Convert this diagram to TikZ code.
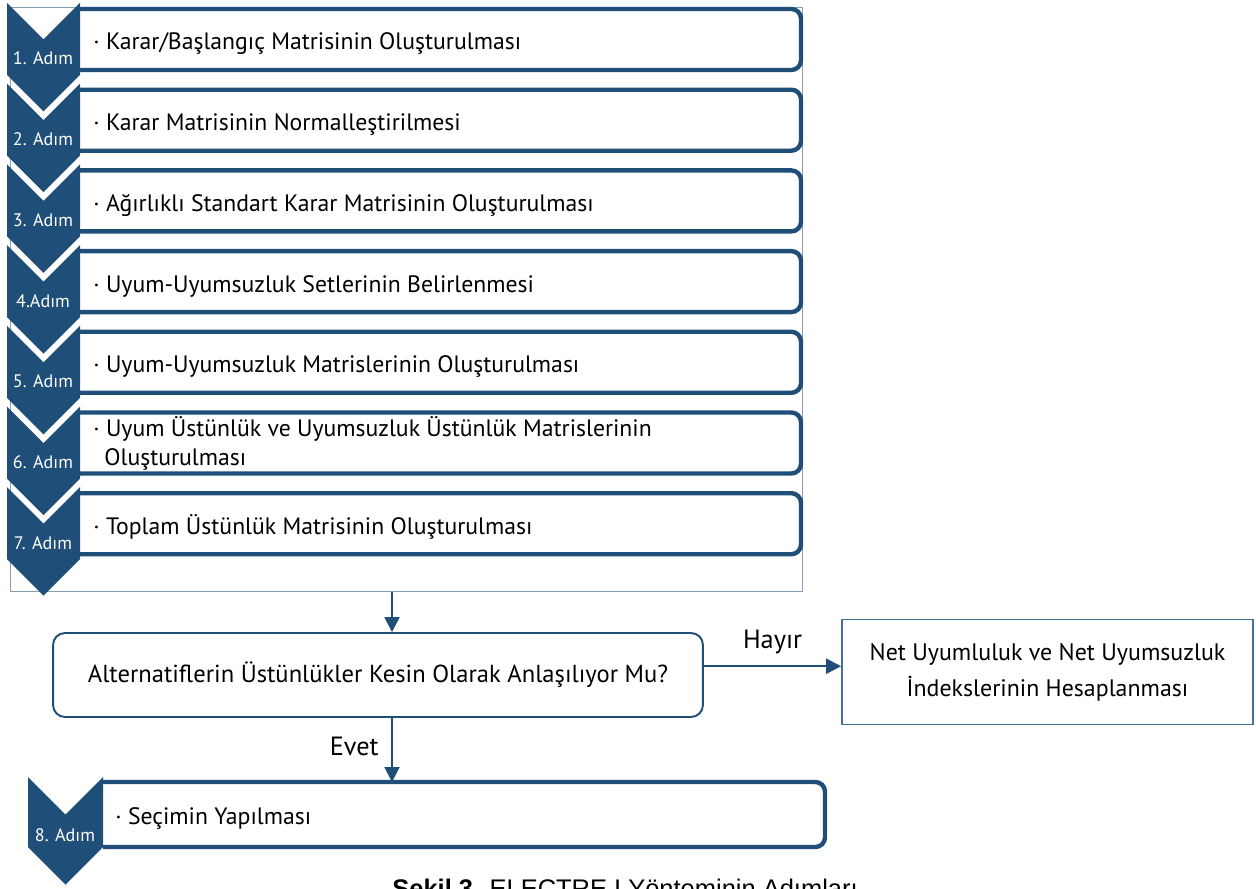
\documentclass[tikz,border=0pt]{standalone}
\usepackage{fontspec}
\setmainfont{PT Sans}
\newfontfamily\capfont{Liberation Sans}
\usetikzlibrary{arrows.meta}
\definecolor{stepblue}{HTML}{1F4E79}
\definecolor{framegrey}{HTML}{8A9EB5}
\definecolor{netblue}{HTML}{41719C}
\tikzset{
  chevron/.style={fill=stepblue},
  stepbox/.style={draw=stepblue, line width=2.5pt, rounded corners=5.5pt},
  steptext/.style={anchor=base west, inner sep=0pt, font=\fontsize{13.5}{16}\selectfont},
  steplabel/.style={anchor=base, inner sep=0pt, text=white, font=\fontsize{10.3}{12}\selectfont},
  frame/.style={draw=framegrey, line width=0.6pt, minimum width=15.86cm, minimum height=11.7cm, inner sep=0pt},
  decbox/.style={draw=stepblue, line width=1.1pt, rounded corners=6.8pt, minimum width=13cm,
    minimum height=1.68cm, font=\fontsize{14}{16}\selectfont},
  netbox/.style={draw=netblue, line width=1pt, minimum width=8.22cm, minimum height=2.1cm,
    align=center, font=\fontsize{13.6}{20.4}\selectfont},
  flow/.style={draw=stepblue, line width=1.2pt, -{Triangle[length=8.5pt,width=8.5pt]}},
  answer/.style={inner sep=0pt, font=\fontsize{15}{17}\selectfont}
}
% chevron: left x, top y, width, side height
\newcommand{\chev}[4]{%
  \fill[chevron] (#1,#2) -- ++(#3/2,#3/2) -- ++(#3/2,-#3/2) -- ++(0,#4)
    -- ++(-#3/2,#3/2) -- ++(-#3/2,-#3/2) -- cycle;}
\begin{document}
\begin{tikzpicture}[x=0.02cm, y=-0.02cm]
  \useasboundingbox (0,0) rectangle (1256,888);
  \node[frame] (steps) at (406.5,299.5) {};
  % steps 1-7
  \foreach \k/\lab/\txt in {
      1/{1. Adım}/{· Karar/Başlangıç Matrisinin Oluşturulması},
      2/{2. Adım}/{· Karar Matrisinin Normalleştirilmesi},
      3/{3. Adım}/{· Ağırlıklı Standart Karar Matrisinin Oluşturulması},
      4/{4.Adım}/{· Uyum-Uyumsuzluk Setlerinin Belirlenmesi},
      5/{5. Adım}/{· Uyum-Uyumsuzluk Matrislerinin Oluşturulması},
      6/{6. Adım}/{· Uyum Üstünlük ve Uyumsuzluk Üstünlük Matrislerinin},
      7/{7. Adım}/{· Toplam Üstünlük Matrisinin Oluşturulması}} {
    \pgfmathsetmacro\cy{3+80.7*(\k-1)}
    \chev{7}{\cy}{73}{72}
    \draw[stepbox] (80,\cy+6) -- (801,\cy+6) -- (801,\cy+67) -- (80,\cy+67);
    \node[steplabel] (lab\k) at (43,\cy+62) {\lab};
    \ifnum\k=6
      \node[steptext] (txt\k) at (93,\cy+30) {\txt};
    \else
      \node[steptext] (txt\k) at (93,\cy+47) {\txt};
    \fi
  }
  \node[steptext] (txt6b) at (104,465) {Oluşturulması};
  % step 8
  \chev{28}{777}{75}{70}
  \draw[stepbox] (103,782) -- (825,782) -- (825,847) -- (103,847);
  \node[steplabel] (lab8) at (65,841) {8. Adım};
  \node[steptext] (txt8) at (115,824) {· Seçimin Yapılması};
  \coordinate (row8) at (392,782);
  % decision
  \coordinate (drop) at (392,0);
  \node[decbox] (dec) at (378,675) {Alternatiflerin Üstünlükler Kesin Olarak Anlaşılıyor Mu?};
  \node[netbox] (net) at (1047.5,672) {Net Uyumluluk ve Net Uyumsuzluk\\İndekslerinin Hesaplanması};
  \draw[flow] (steps.south -| drop) -- (dec.north -| drop);
  \draw[flow] ([yshift=5pt]dec.east) -- ([yshift=5pt]dec.east -| net.west)
    node[answer, midway, anchor=base, yshift=10pt] {Hayır};
  \draw[flow] (dec.south -| drop) -- (row8)
    node[answer, pos=0.58, anchor=base east, xshift=-7pt] {Evet};
  % caption, cut by the page edge
  \node[anchor=base west, inner sep=0pt, font=\capfont\fontsize{14.5}{16}\selectfont] (cap)
    at (392,897) {\textbf{Şekil 3.} ELECTRE I Yönteminin Adımları};
\end{tikzpicture}
\end{document}
